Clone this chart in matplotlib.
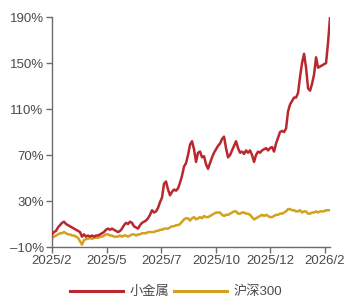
import numpy as np
import matplotlib
matplotlib.use('Agg')
import matplotlib.pyplot as plt

plt.rcParams['font.family'] = ['Liberation Sans', 'Noto Sans CJK SC', 'DejaVu Sans']

# cumulative return (%), roughly evenly spaced in time
small_metals = [1, 3, 4, 7, 9, 11, 12, 10, 9, 8,
                7, 6, 5, 4, 3, -1, 1, -1, 0, -1,
                0, -1, 0, 0, 1, 2, 3, 5, 6, 5,
                6, 5, 4, 3, 4, 6, 9, 11, 10, 12,
                11, 8, 7, 6, 9, 11, 12, 13, 15, 18,
                22, 20, 21, 24, 29, 33, 45, 47, 40, 35,
                38, 40, 39, 41, 46, 52, 60, 63, 70, 79,
                82, 75, 64, 72, 73, 68, 69, 62, 58, 63,
                68, 72, 75, 78, 80, 84, 86, 76, 68, 70,
                74, 78, 82, 76, 72, 73, 71, 74, 72, 74,
                70, 64, 70, 73, 72, 74, 75, 76, 74, 76,
                77, 73, 80, 85, 90, 91, 90, 93, 108, 114,
                117, 120, 120, 124, 138, 150, 158, 146, 128, 126,
                132, 140, 155, 146, 147, 148, 149, 150, 168, 190]

csi300 = [-2, -1, 0, 1, 2, 2, 3, 2, 1, 1,
          0, 0, -1, -2, -5, -8, -4, -3, -3, -2,
          -3, -2, -2, -2, -1, -1, 0, 1, 1, 0,
          0, -1, -1, -1, 0, -1, 0, 0, -1, 0,
          1, 1, 0, 1, 1, 2, 2, 2, 3, 3,
          3, 3, 4, 4, 5, 5, 6, 6, 6, 7,
          8, 8, 9, 9, 10, 12, 14, 15, 15, 13,
          15, 16, 14, 15, 16, 15, 17, 16, 16, 17,
          18, 19, 20, 20, 20, 18, 17, 18, 18, 19,
          20, 21, 21, 19, 19, 20, 20, 19, 19, 18,
          16, 14, 15, 16, 17, 18, 17, 18, 17, 16,
          16, 17, 18, 18, 19, 19, 20, 21, 23, 23,
          22, 22, 21, 21, 22, 20, 21, 21, 19, 19,
          20, 20, 21, 20, 21, 21, 21, 22, 22, 22]

date_labels = ['2025/2', '2025/5', '2025/7', '2025/10', '2025/12', '2026/2']
y_ticks = [-10, 30, 70, 110, 150, 190]

x = np.arange(len(small_metals))

fig = plt.figure(figsize=(3.45, 3.07), dpi=100)
ax = fig.add_axes([0.1507, 0.1954, 0.806, 0.749])

ax.plot(x, csi300, color='#D4A11E', lw=1.8, label='沪深300', zorder=2)
ax.plot(x, small_metals, color='#B8282E', lw=1.8, label='小金属', zorder=3)

ax.set_xlim(0, len(x) - 1)
ax.set_ylim(-10, 190)
ax.set_yticks(y_ticks)
ax.set_yticklabels([f'{v}%'.replace('-', '\u2013') for v in y_ticks])
ax.set_xticks(np.linspace(0, 136.5, len(date_labels)))
ax.set_xticklabels(date_labels)

for s in ['top', 'right']:
    ax.spines[s].set_visible(False)
for s in ['left', 'bottom']:
    ax.spines[s].set_color('#6b6b6b')
    ax.spines[s].set_linewidth(1.0)
ax.tick_params(colors='#6b6b6b', labelcolor='#4a4a4a', labelsize=9.5, length=4, width=1.0, pad=2)

h, l = ax.get_legend_handles_labels()
fig.legend(h[::-1], l[::-1], loc='lower center', bbox_to_anchor=(0.51, -0.01), ncol=2,
           frameon=False, fontsize=9.5, handlelength=4.0, handletextpad=0.5,
           columnspacing=0.4, labelcolor='#4a4a4a')
for line in fig.legends[0].get_lines():
    line.set_linewidth(2.2)

fig.savefig('out.png', dpi=100)
